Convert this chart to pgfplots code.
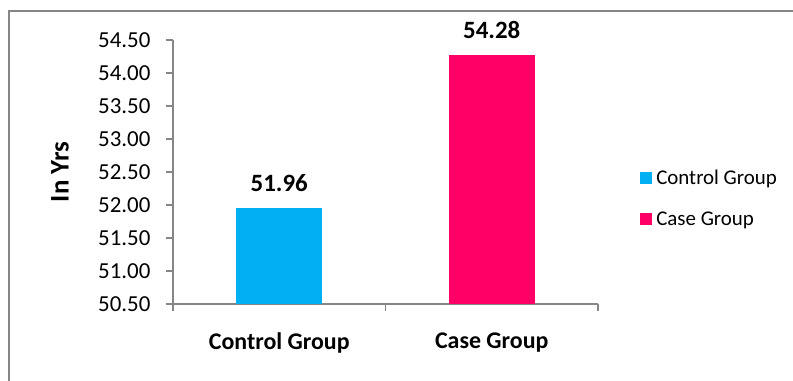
\documentclass[border=0pt]{standalone}
\usepackage{pgfplots}
\pgfplotsset{compat=1.18}
\usepackage{fontspec}
\setmainfont{Carlito}
\definecolor{ctrl}{RGB}{0,176,240}
\definecolor{case}{RGB}{255,0,102}
\definecolor{axgray}{RGB}{134,134,134}
\begin{document}
\begin{tikzpicture}
\useasboundingbox (0,0) rectangle (793bp,381bp);
\draw[axgray, line width=1.2bp] (9bp,0bp) -- (9bp,370bp) -- (793bp,370bp);
\begin{axis}[
  at={(173bp,77bp)}, anchor=south west,
  scale only axis, width=425bp, height=264bp,
  xmin=-0.5, xmax=1.5, ymin=50.5, ymax=54.5,
  ytick={50.5,51,...,54.5},
  /pgf/number format/assume math mode=true,
  yticklabel style={/pgf/number format/fixed, /pgf/number format/fixed zerofill, /pgf/number format/precision=2, font=\fontsize{23}{27}\selectfont, xshift=-12bp},
  axis lines*=left,
  axis line style={axgray, line width=1.2bp},
  every tick/.style={axgray, line width=1.2bp},
  tick align=outside,
  major tick length=7bp,
  xtick={0,1}, xticklabels={Control Group, Case Group},
  xtick style={draw=none},
  xticklabel style={font=\bfseries\fontsize{24}{28}\selectfont, yshift=-18bp},
  extra x ticks={-0.5,0.5,1.5}, extra x tick labels={},
  extra x tick style={major tick length=7bp, xtick style={draw=axgray}},
  ylabel={In Yrs},
  ylabel style={at={(rel axis cs:-0.266,0.5)}, anchor=center, font=\bfseries\fontsize{27}{31}\selectfont},
  ybar, bar width=86bp, bar shift=0pt,
  clip mode=individual,
  nodes near coords,
  nodes near coords style={font=\bfseries\fontsize{25}{29}\selectfont, anchor=south, yshift=12bp, /pgf/number format/fixed, /pgf/number format/precision=2, /pgf/number format/fixed zerofill},
  legend style={draw=none, at={(rel axis cs:1.099,0.40)}, anchor=west, inner sep=0pt, font=\fontsize{21}{25}\selectfont, row sep=22bp, legend cell align=left},
  legend image code/.code={\fill[#1] (0bp,-6bp) rectangle (12bp,6bp); \path (14bp,0bp);},
]
\addplot[fill=ctrl, draw=none] coordinates {(0,51.96)};
\addplot[fill=case, draw=none] coordinates {(1,54.28)};
\legend{Control Group, Case Group}
\end{axis}
\end{tikzpicture}
\end{document}
